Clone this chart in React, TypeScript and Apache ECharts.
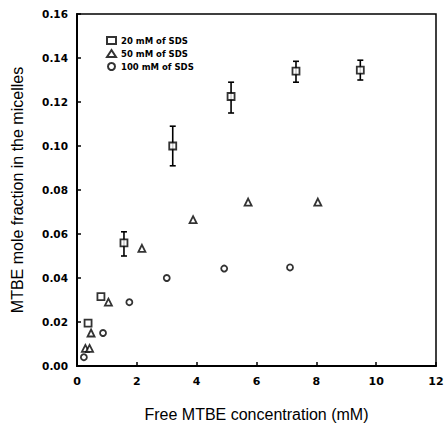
import React, { useEffect, useRef } from "react";
import * as echarts from "echarts";

const sds20: number[][] = [
  [0.37, 0.0195], [0.8, 0.0315], [1.57, 0.056], [3.2, 0.1], [5.15, 0.1225], [7.32, 0.134], [9.47, 0.1345],
];
const sds20Err: number[][] = [
  [1.57, 0.05, 0.061], [3.2, 0.091, 0.109], [5.15, 0.115, 0.129], [7.32, 0.129, 0.1385], [9.47, 0.13, 0.139],
];
const sds50: number[][] = [
  [0.28, 0.008], [0.42, 0.008], [0.47, 0.015], [1.05, 0.029], [2.17, 0.0535], [3.88, 0.0665], [5.72, 0.0745], [8.05, 0.0745],
];
const sds100: number[][] = [
  [0.23, 0.004], [0.87, 0.015], [1.75, 0.029], [3.0, 0.04], [4.92, 0.0443], [7.12, 0.0448],
];
const seriesNames = ["20 mM of SDS", "50 mM of SDS", "100 mM of SDS"];

export default function App() {
  const ref = useRef<HTMLDivElement>(null);
  useEffect(() => {
    if (!ref.current) return;
    const chart = echarts.init(ref.current, null, { renderer: "svg" });
    const font = "Liberation Sans";
    const tickFont = "DejaVu Sans";
    const markerStyle = { color: "#fff", borderColor: "#000", borderWidth: 1.8 };
    chart.setOption({
      animation: false,
      backgroundColor: "#fff",
      textStyle: { fontFamily: font },
      grid: {
        left: 77, right: 12, top: 14, bottom: 60, show: true, borderColor: "#000", borderWidth: 1.5,
        backgroundColor: "transparent", containLabel: false, outerBoundsMode: "none",
      },
      legend: {
        orient: "vertical",
        left: 101,
        top: 31,
        itemGap: 4,
        itemWidth: 9,
        itemHeight: 7,
        data: seriesNames,
        textStyle: { fontSize: 8.5, fontWeight: "bold", color: "#000", fontFamily: tickFont },
      },
      xAxis: {
        type: "value",
        min: 0,
        max: 12,
        interval: 2,
        name: "Free MTBE concentration (mM)",
        nameLocation: "middle",
        nameGap: 40,
        nameTextStyle: { fontSize: 16, color: "#000", fontFamily: font },
        axisLine: { show: true, lineStyle: { color: "#000", width: 2 } },
        axisTick: { show: true, inside: true, length: 4, lineStyle: { color: "#000", width: 1.5 } },
        axisLabel: { fontSize: 11, fontWeight: "bold", color: "#000", margin: 10, fontFamily: tickFont },
        splitLine: { show: false },
      },
      yAxis: {
        type: "value",
        min: 0,
        max: 0.16,
        interval: 0.02,
        name: "MTBE mole fraction in the micelles",
        nameLocation: "middle",
        nameGap: 52,
        nameTextStyle: { fontSize: 16, color: "#000", fontFamily: font },
        axisLine: { show: true, lineStyle: { color: "#000", width: 2 } },
        axisTick: { show: true, inside: true, length: 4, lineStyle: { color: "#000", width: 1.5 } },
        axisLabel: { fontSize: 10.5, fontWeight: "bold", color: "#000", margin: 9, fontFamily: tickFont, formatter: (v: number) => v.toFixed(2) },
        splitLine: { show: false },
      },
      series: [
        { name: seriesNames[0], type: "scatter", symbol: "rect", symbolSize: 7, itemStyle: markerStyle, data: sds20, z: 3 },
        { name: seriesNames[1], type: "scatter", symbol: "triangle", symbolSize: 7, itemStyle: markerStyle, data: sds50, z: 3 },
        { name: seriesNames[2], type: "scatter", symbol: "circle", symbolSize: 6, itemStyle: markerStyle, data: sds100, z: 3 },
        {
          type: "custom",
          name: "err",
          data: sds20Err,
          z: 2,
          renderItem: (params: any, api: any) => {
            const x = api.value(0);
            const lo = api.coord([x, api.value(1)]);
            const hi = api.coord([x, api.value(2)]);
            const w = 3;
            const style = { stroke: "#000", lineWidth: 1.6 };
            return {
              type: "group",
              children: [
                { type: "line", shape: { x1: lo[0], y1: lo[1], x2: hi[0], y2: hi[1] }, style },
                { type: "line", shape: { x1: lo[0] - w, y1: lo[1], x2: lo[0] + w, y2: lo[1] }, style },
                { type: "line", shape: { x1: hi[0] - w, y1: hi[1], x2: hi[0] + w, y2: hi[1] }, style },
              ],
            };
          },
        },
      ],
    });
    return () => chart.dispose();
  }, []);
  return <div ref={ref} style={{ width: 448, height: 426, position: "fixed", left: 0, top: 0 }} />;
}
